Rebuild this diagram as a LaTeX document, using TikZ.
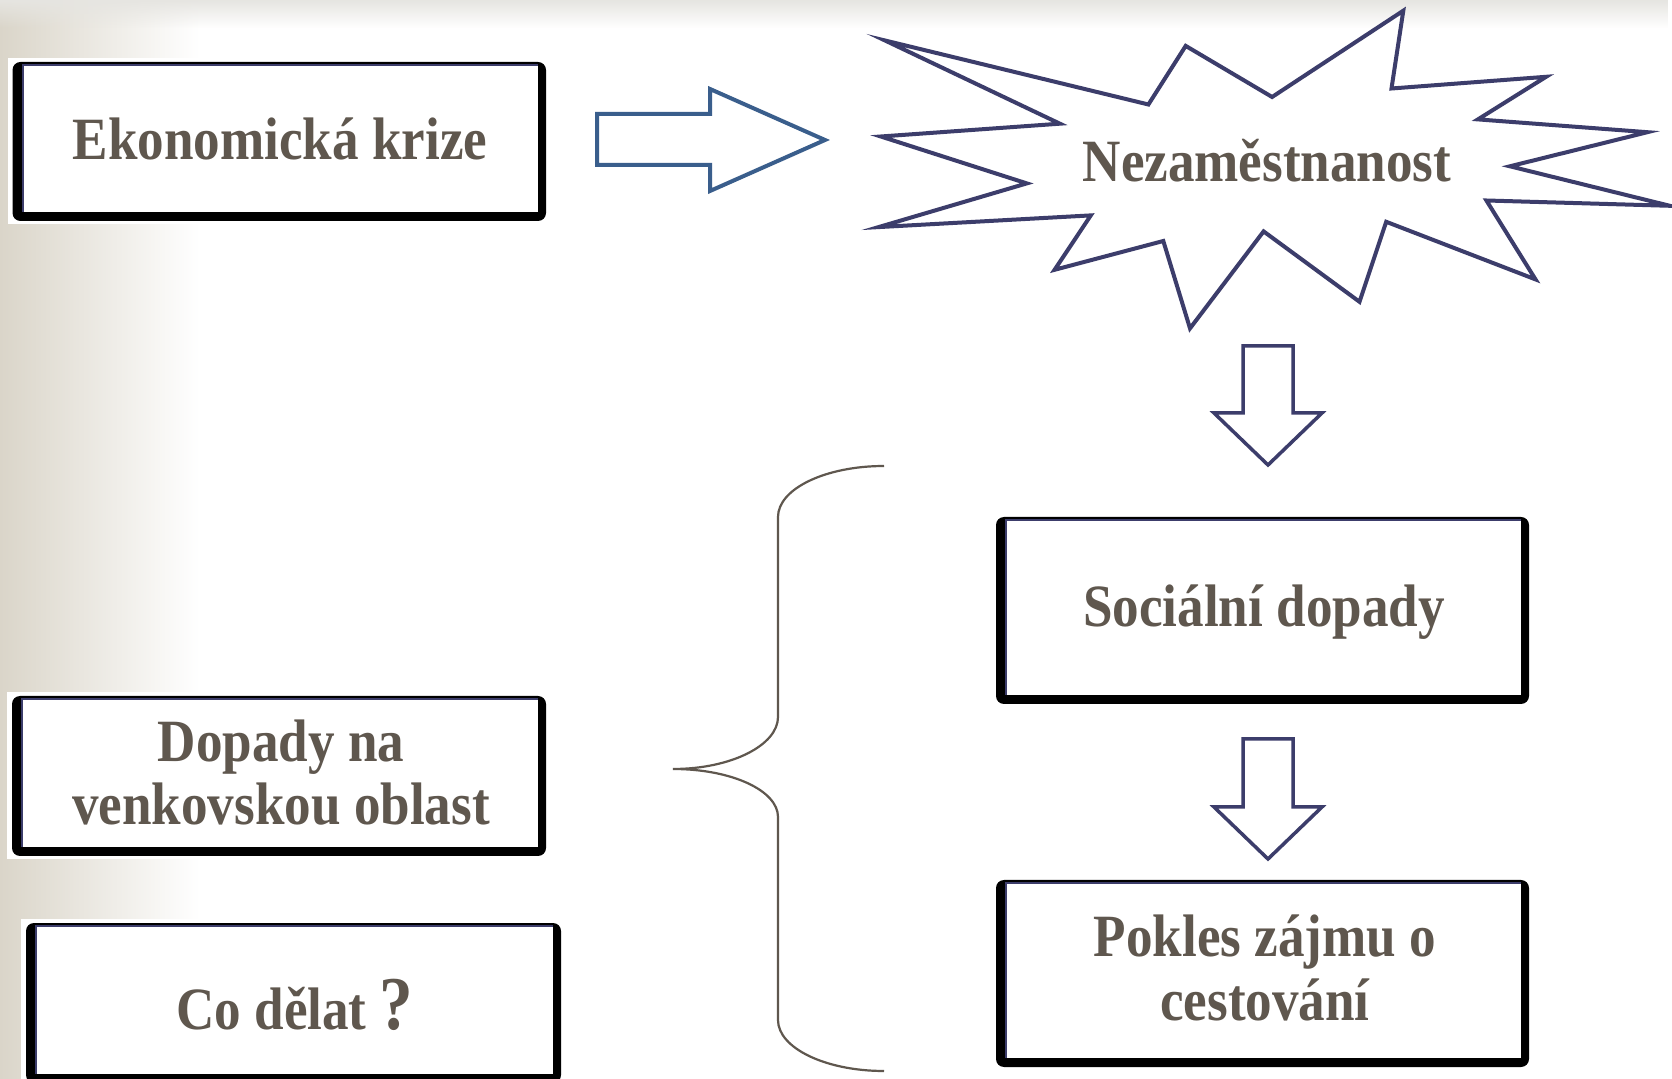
\documentclass[tikz,border=0pt]{standalone}
\usepackage{fontspec}
\setmainfont{Liberation Serif}[FakeStretch=0.885]
\usetikzlibrary{fadings}
\definecolor{txt}{HTML}{5F574E}
\definecolor{navy}{HTML}{3C3D6B}
\definecolor{steel}{HTML}{3A5E8C}
\definecolor{bgl}{HTML}{DAD5C9}
\definecolor{topg}{HTML}{E6E5E1}
\tikzfading[name=topfade, top color=transparent!0, bottom color=transparent!100]
\tikzset{
  lbl/.style={text=txt, font=\fontsize{30}{32}\selectfont\bfseries, align=center, inner sep=0pt},
  burst/.style={draw=navy, line width=2pt, line join=miter, fill=white},
  rarrow/.style={draw=steel, line width=2pt, line join=miter, fill=white},
  darrow/.style={draw=navy, line width=1.75pt, line join=miter, fill=white},
  bracel/.style={draw=txt, line width=1.1pt},
}
\newcommand{\shbox}[4]{%
  \fill[white] (#1-5,#2-4) rectangle (#3+5,#4+3);
  \fill[black, rounded corners=4pt] (#1,#2) rectangle (#3,#4);
  \fill[white] (#1+9,#2+2) rectangle (#3-8,#4-9);
  \draw[navy, line width=1.2pt] (#1+10.2,#4-9) -- (#1+10.2,#2+3.2) -- (#3-8,#2+3.2);
}
\begin{document}
\begin{tikzpicture}[x=0.5pt, y=-0.5pt]
\useasboundingbox (0,0) rectangle (1672,1079);
\clip (0,0) rectangle (1672,1079);
\fill[white] (0,0) rectangle (1672,1079);
\shade[left color=bgl, right color=white] (0,0) rectangle (200,1079);
\fill[topg, path fading=topfade] (0,0) rectangle (1672,28);

% boxes
\shbox{12.5}{62}{546}{221}
\shbox{996}{517}{1529}{704}
\shbox{12}{696}{546}{856}
\shbox{26}{923}{561}{1083}
\shbox{996}{880}{1529}{1067}

% starburst
\draw[burst] (885,40.5) -- (1148.4,104.5) -- (1185.7,45.9) -- (1272.1,97.0) -- (1403.3,10.7)
  -- (1391.5,88.5) -- (1546.1,76.8) -- (1477.9,119.4) -- (1647.4,132.2) -- (1509.9,166.3)
  -- (1669.8,205.8) -- (1486.4,200.5) -- (1535.5,279.4) -- (1386.2,221.8) -- (1359.5,301.8)
  -- (1263.6,231.4) -- (1190.0,328.4) -- (1163.3,241.0) -- (1054.6,269.8) -- (1090.8,215.4)
  -- (878.6,227.1) -- (1026.8,183.4) -- (880.8,136.5) -- (1059.9,123.7) -- cycle;

% block arrows
\draw[rarrow] (597,114) -- (710,114) -- (710,89) -- (825,140) -- (710,191) -- (710,165) -- (597,165) -- cycle;
\draw[darrow] (1243,346) -- (1293,346) -- (1293,413) -- (1322,413) -- (1268,465) -- (1214,413) -- (1243,413) -- cycle;
\draw[darrow] (1243,739) -- (1293,739) -- (1293,807) -- (1322,807) -- (1268,859) -- (1214,807) -- (1243,807) -- cycle;

% brace
\draw[bracel] (884,466) .. controls (825.5,466) and (778,488.8) .. (778,517) -- (778,717)
  .. controls (778,745) and (731.5,769) .. (673,769)
  .. controls (731.5,769) and (778,790.5) .. (778,817) -- (778,1020)
  .. controls (778,1048) and (825.5,1071) .. (884,1071);

% texts
\node[lbl, anchor=base] (ek) at (280,160) {Ekonomická krize};
\node[lbl, anchor=base] (nez) at (1267,182) {Nezaměstnanost};
\node[lbl, anchor=base] (soc) at (1264,627) {Sociální dopady};
\node[lbl, anchor=base] (dop) at (281,825) {Dopady na\\venkovskou oblast};
\node[lbl, anchor=base] (co) at (295,1029) {Co dělat {\fontsize{38}{38}\selectfont ?}};
\node[lbl, anchor=base] (pok) at (1265,1020) {Pokles zájmu o\\cestování};
\end{tikzpicture}
\end{document}
